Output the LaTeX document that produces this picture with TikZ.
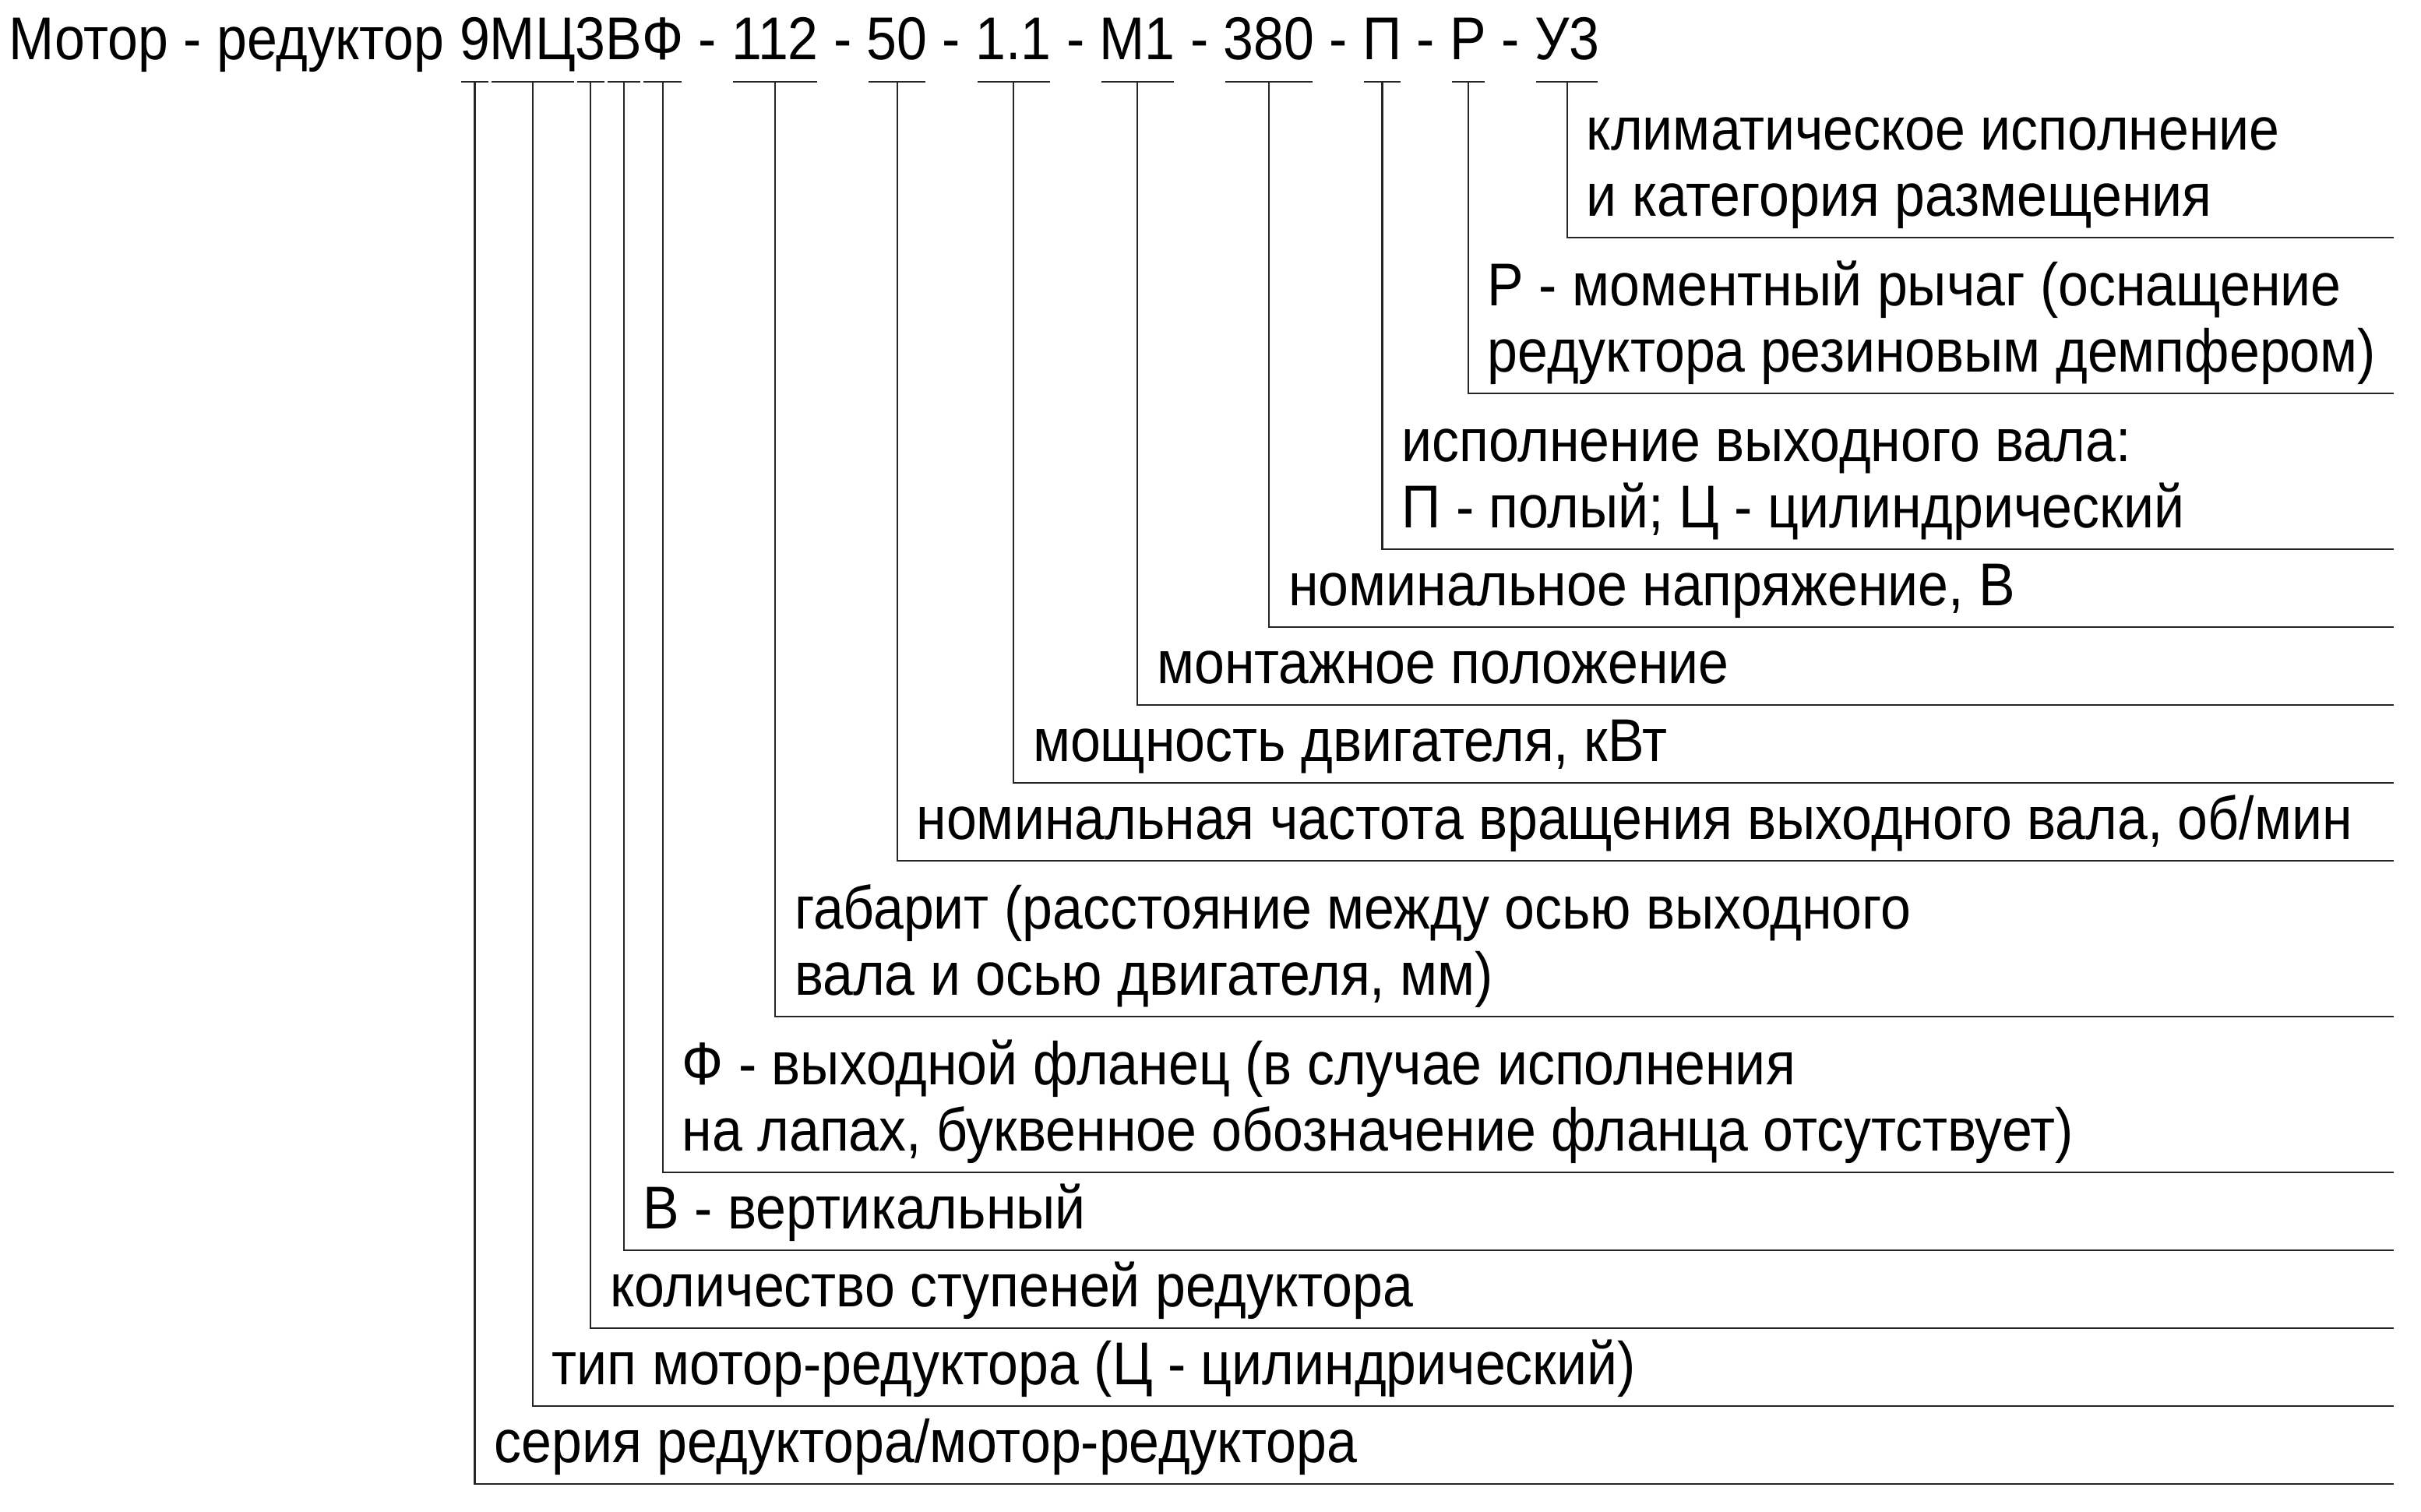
\documentclass[tikz,border=0pt]{standalone}
\usepackage{fontspec}
\setmainfont{Liberation Sans}[FakeStretch=0.90]
\usetikzlibrary{calc}
\begin{document}
\begin{tikzpicture}[x=1pt,y=-1pt,
  every node/.style={inner sep=0pt, outer sep=0pt, font=\fontsize{38.8}{43}\selectfont, text=black},
  piece/.style={anchor=base west},
  lbl/.style={anchor=base west},
  conn/.style={line width=1.1pt, black!85, line cap=rect},
  uline/.style={line width=1.2pt, black!85}]
\useasboundingbox (0,0) rectangle (1554,970);
% title, built piece by piece
\node[piece] (t0) at (5.7,38) {Мотор - редуктор\ \null};
\node[piece] (p9) at (t0.base east) {9};
\node[piece] (pMC) at (p9.base east) {МЦ};
\node[piece] (p3) at (pMC.base east) {3};
\node[piece] (pB) at (p3.base east) {В};
\node[piece] (pF) at (pB.base east) {Ф};
\node[piece] (s1) at (pF.base east) {\null\ -\ \null};
\node[piece] (p112) at (s1.base east) {112};
\node[piece] (s2) at (p112.base east) {\null\ -\ \null};
\node[piece] (p50) at (s2.base east) {50};
\node[piece] (s3) at (p50.base east) {\null\ -\ \null};
\node[piece] (p11) at (s3.base east) {1.1};
\node[piece] (s4) at (p11.base east) {\null\ -\ \null};
\node[piece] (pM1) at (s4.base east) {М1};
\node[piece] (s5) at (pM1.base east) {\null\ -\ \null};
\node[piece] (p380) at (s5.base east) {380};
\node[piece] (s6) at (p380.base east) {\null\ -\ \null};
\node[piece] (pP) at (s6.base east) {П};
\node[piece] (s7) at (pP.base east) {\null\ -\ \null};
\node[piece] (pR) at (s7.base east) {Р};
\node[piece] (s8) at (pR.base east) {\null\ -\ \null};
\node[piece] (pU) at (s8.base east) {У3};
% underline level
\coordinate (ul) at (0,52.5);
\foreach \p in {p9,pMC,p3,pB,pF,p112,p50,p11,pM1,p380,pP,pR,pU}{
  \draw[uline] ($(\p.west |- ul)+(1,0)$) -- ($(\p.east |- ul)+(-1,0)$);
}
% right ends of the leader lines
\coordinate (eU) at (1536,152.5);
\coordinate (eR) at (1536,252.5);
\coordinate (eP) at (1536,352.5);
\coordinate (e380) at (1536,402.5);
\coordinate (eM1) at (1536,452.5);
\coordinate (e11) at (1536,502.5);
\coordinate (e50) at (1536,552.5);
\coordinate (e112) at (1536,652.5);
\coordinate (eF) at (1536,752.5);
\coordinate (eB) at (1536,802.5);
\coordinate (e3) at (1536,852.5);
\coordinate (eMC) at (1536,902.5);
\coordinate (e9) at (1536,952.5);
\foreach \p/\e in {pU/eU,pR/eR,pP/eP,p380/e380,pM1/eM1,p11/e11,p50/e50,p112/e112,pF/eF,pB/eB,p3/e3,pMC/eMC,p9/e9}{
  \draw[conn] (\p |- ul) |- (\e);
}
% labels
\node[lbl] (lU1) at ($(pU |- 0,96)+(12.5,0)$) {климатическое исполнение};
\node[lbl] (lU2) at ($(pU |- 0,138.5)+(12.5,0)$) {и категория размещения};
\node[lbl] (lR1) at ($(pR |- 0,196)+(12.5,0)$) {Р - моментный рычаг (оснащение};
\node[lbl] (lR2) at ($(pR |- 0,238.5)+(12.5,0)$) {редуктора резиновым демпфером)};
\node[lbl] (lP1) at ($(pP |- 0,296)+(12.5,0)$) {исполнение выходного вала:};
\node[lbl] (lP2) at ($(pP |- 0,338.5)+(12.5,0)$) {П - полый; Ц - цилиндрический};
\node[lbl] (l380) at ($(p380 |- 0,388.5)+(12.5,0)$) {номинальное напряжение, В};
\node[lbl] (lM1) at ($(pM1 |- 0,438.5)+(12.5,0)$) {монтажное положение};
\node[lbl] (l11) at ($(p11 |- 0,488.5)+(12.5,0)$) {мощность двигателя, кВт};
\node[lbl] (l50) at ($(p50 |- 0,538.5)+(12.5,0)$) {номинальная частота вращения выходного вала, об/мин};
\node[lbl] (l112a) at ($(p112 |- 0,596)+(12.5,0)$) {габарит (расстояние между осью выходного};
\node[lbl] (l112b) at ($(p112 |- 0,638.5)+(12.5,0)$) {вала и осью двигателя, мм)};
\node[lbl] (lF1) at ($(pF |- 0,696)+(12.5,0)$) {Ф - выходной фланец (в случае исполнения};
\node[lbl] (lF2) at ($(pF |- 0,738.5)+(12.5,0)$) {на лапах, буквенное обозначение фланца отсутствует)};
\node[lbl] (lB) at ($(pB |- 0,788.5)+(12.5,0)$) {В - вертикальный};
\node[lbl] (l3) at ($(p3 |- 0,838.5)+(12.5,0)$) {количество ступеней редуктора};
\node[lbl] (lMC) at ($(pMC |- 0,888.5)+(12.5,0)$) {тип мотор-редуктора (Ц - цилиндрический)};
\node[lbl] (l9) at ($(p9 |- 0,938.5)+(12.5,0)$) {серия редуктора/мотор-редуктора};
\end{tikzpicture}
\end{document}
